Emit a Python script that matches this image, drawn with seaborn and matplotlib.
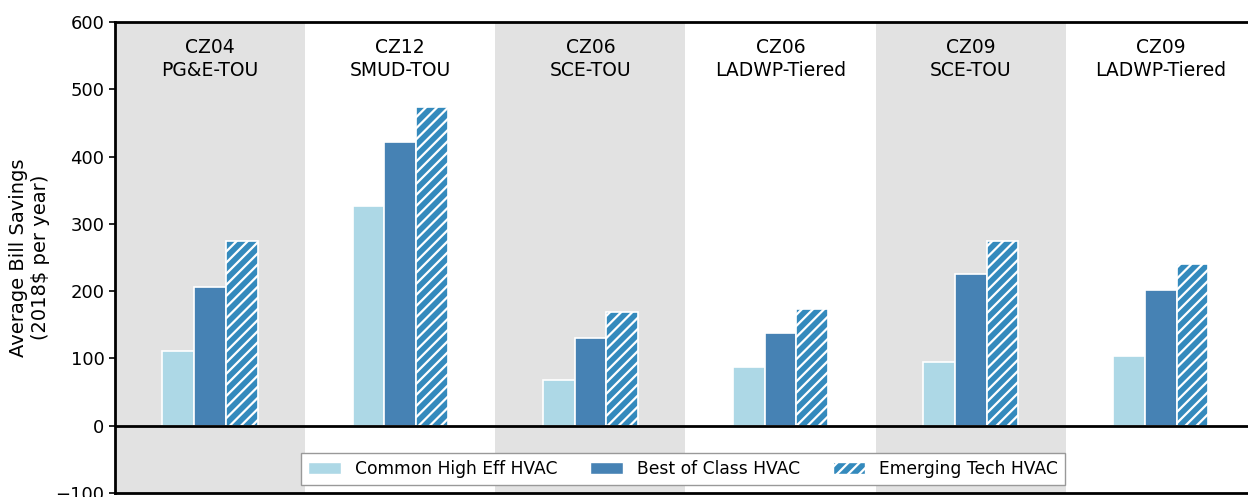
import matplotlib
matplotlib.use("Agg")
from matplotlib import pyplot as plt
from matplotlib.patches import Patch
import pandas as pd
import seaborn as sns

# chart data
regions = ["CZ04\nPG&E-TOU", "CZ12\nSMUD-TOU", "CZ06\nSCE-TOU",
           "CZ06\nLADWP-Tiered", "CZ09\nSCE-TOU", "CZ09\nLADWP-Tiered"]
series_names = ["Common High Eff HVAC", "Best of Class HVAC", "Emerging Tech HVAC"]
common_high_eff = [111, 327, 68, 88, 95, 104]
best_of_class = [206, 422, 131, 138, 226, 201]
emerging_tech = [275, 474, 169, 174, 275, 241]

colors = ["#ADD8E6", "#4682B4", "#348ABD"]

sns.set_style("white")
plt.rcParams["font.family"] = ["DejaVu Sans"]
plt.rcParams["hatch.linewidth"] = 1.6
plt.rcParams["hatch.color"] = "white"
plt.rcParams["text.color"] = "black"
plt.rcParams["axes.labelcolor"] = "black"
plt.rcParams["ytick.color"] = "black"

records = []
for name, vals in zip(series_names, [common_high_eff, best_of_class, emerging_tech]):
    for r, v in zip(regions, vals):
        records.append({"Region": r, "Measure": name, "Savings": v})
df = pd.DataFrame(records)

fig = plt.figure(figsize=(12.48, 4.97), dpi=100)
ax = fig.add_axes([0.0921, 0.008, 0.9143, 0.9477])

# alternating background bands
for i in range(len(regions)):
    if i % 2 == 0:
        ax.axvspan(i - 0.5, i + 0.5, color="#E2E2E2", lw=0, zorder=0)

sns.barplot(data=df, x="Region", y="Savings", hue="Measure", order=regions,
            hue_order=series_names, palette=colors, width=0.5,
            edgecolor="white", linewidth=1.2, saturation=1, ax=ax, zorder=2)

for bar in ax.containers[2]:
    bar.set_hatch("///")

ax.axhline(0, color="black", lw=2, zorder=3)

for i, r in enumerate(regions):
    ax.text(i, 545, r, ha="center", va="center", fontsize=13.5, linespacing=1.25)

ax.set_xlim(-0.5, 5.5)
ax.set_ylim(-100, 600)
ax.set_yticks([-100, 0, 100, 200, 300, 400, 500, 600])
ax.set_xticks([])
ax.set_xlabel("")
ax.set_ylabel("Average Bill Savings\n(2018\\$ per year)", fontsize=14)
ax.tick_params(axis="y", labelsize=13, direction="out", length=4, width=1.2, left=True)

for side in ["left", "top", "bottom"]:
    ax.spines[side].set_color("black")
    ax.spines[side].set_linewidth(2)
ax.spines["right"].set_visible(False)

handles = [Patch(facecolor=colors[0], edgecolor="white"),
           Patch(facecolor=colors[1], edgecolor="white"),
           Patch(facecolor=colors[2], edgecolor="white", hatch="///")]
ax.legend(handles, series_names, loc="lower center", bbox_to_anchor=(0.498, 0.017),
          ncol=3, frameon=True, fancybox=False, edgecolor="#999999", framealpha=1,
          fontsize=12.3, handlelength=1.93, handletextpad=0.82, columnspacing=1.9,
          borderaxespad=0, borderpad=0.4)

fig.savefig("out.png", dpi=100)
